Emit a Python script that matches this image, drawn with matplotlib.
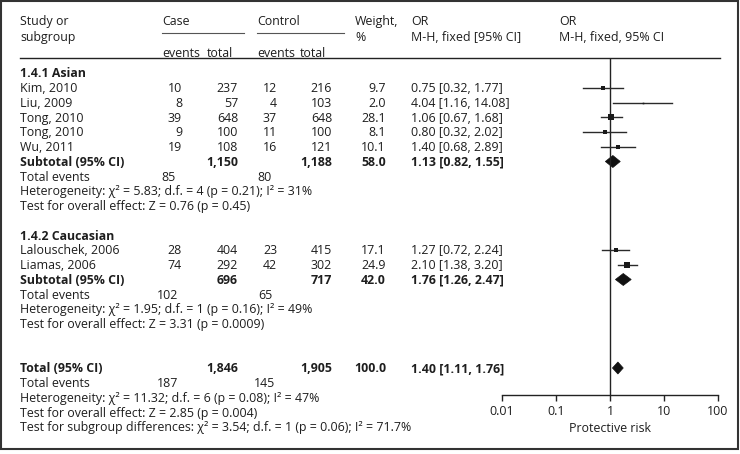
import numpy as np
import matplotlib
matplotlib.use("Agg")
import matplotlib.pyplot as plt
from matplotlib.patches import Rectangle, Polygon
from matplotlib.ticker import FixedLocator, FixedFormatter, NullLocator

# ---- data -------------------------------------------------------------
asian_names = ["Kim, 2010", "Liu, 2009", "Tong, 2010", "Tong, 2010", "Wu, 2011"]
asian_case_events = [10, 8, 39, 9, 19]
asian_case_total = [237, 57, 648, 100, 108]
asian_ctrl_events = [12, 4, 37, 11, 16]
asian_ctrl_total = [216, 103, 648, 100, 121]
asian_weight = [9.7, 2.0, 28.1, 8.1, 10.1]
asian_or = [0.75, 4.04, 1.06, 0.80, 1.40]
asian_lo = [0.32, 1.16, 0.67, 0.32, 0.68]
asian_hi = [1.77, 14.08, 1.68, 2.02, 2.89]

cauc_names = ["Lalouschek, 2006", "Liamas, 2006"]
cauc_case_events = [28, 74]
cauc_case_total = [404, 292]
cauc_ctrl_events = [23, 42]
cauc_ctrl_total = [415, 302]
cauc_weight = [17.1, 24.9]
cauc_or = [1.27, 2.10]
cauc_lo = [0.72, 1.38]
cauc_hi = [2.24, 3.20]

# subtotal / total rows
sub_labels = ["Subtotal (95% CI)", "Subtotal (95% CI)", "Total (95% CI)"]
sub_case_total = ["1,150", "696", "1,846"]
sub_ctrl_total = ["1,188", "717", "1,905"]
sub_weight = [58.0, 42.0, 100.0]
sub_or = [1.13, 1.76, 1.40]
sub_lo = [0.82, 1.26, 1.11]
sub_hi = [1.55, 2.47, 1.76]
sub_case_events = [85, 102, 187]
sub_ctrl_events = [80, 65, 145]
het_text = [
    "Heterogeneity: \u03c7\u00b2 = 5.83; d.f. = 4 (p = 0.21); I\u00b2 = 31%",
    "Heterogeneity: \u03c7\u00b2 = 1.95; d.f. = 1 (p = 0.16); I\u00b2 = 49%",
    "Heterogeneity: \u03c7\u00b2 = 11.32; d.f. = 6 (p = 0.08); I\u00b2 = 47%",
]
effect_text = [
    "Test for overall effect: Z = 0.76 (p = 0.45)",
    "Test for overall effect: Z = 3.31 (p = 0.0009)",
    "Test for overall effect: Z = 2.85 (p = 0.004)",
]
subgroup_diff = "Test for subgroup differences: \u03c7\u00b2 = 3.54; d.f. = 1 (p = 0.06); I\u00b2 = 71.7%"
axis_ticks = [0.01, 0.1, 1, 10, 100]
axis_labels = ["0.01", "0.1", "1", "10", "100"]

# ---- layout -------------------------------------------------------------
W, H = 740, 454
plt.rcParams['font.family'] = ['Open Sans', 'DejaVu Sans']
FS = 8.9
TC = '#1e1e1e'
fig = plt.figure(figsize=(W / 100, H / 100), dpi=100)
ax = fig.add_axes([0, 0, 1, 1])
ax.set_xlim(0, W)
ax.set_ylim(H, 0)
ax.axis('off')

X_NAME, X_CE, X_CT, X_KE, X_KT, X_W, X_OR = 20, 182, 238, 277, 332, 386, 411
X_TE_CASE, X_TE_CTRL = 168, 265
Y0, DY = 73, 14.75
TOP, AXIS_Y = 58, 395


def row_y(i):
    return Y0 + DY * i


def txt(x, y, s, ha='left', bold=False):
    # small downward nudge: 'center' sits a touch high for this font
    ax.text(x, y + 0.8, s, ha=ha, va='center', fontsize=FS, color=TC,
            fontweight='bold' if bold else 'normal')


# header
txt(20, 21, "Study or")
txt(20, 37, "subgroup")
txt(162, 21, "Case")
txt(257, 21, "Control")
ax.plot([162, 244], [33, 33], color='#555555', lw=0.8)
ax.plot([257, 344], [33, 33], color='#555555', lw=0.8)
txt(162, 53, "events")
txt(207, 53, "total")
txt(257, 53, "events")
txt(300, 53, "total")
txt(355, 21, "Weight,")
txt(355, 37, "%")
txt(411, 21, "OR")
txt(411, 37, "M-H, fixed [95% CI]")
txt(559, 21, "OR")
txt(559, 37, "M-H, fixed, 95% CI")
ax.plot([20, 720], [TOP, TOP], color='#222222', lw=1.0)
ax.add_patch(Rectangle((1, 1), 737, 448, fill=False, ec='#333333', lw=1.5))

# forest axes
fx0, fx1 = 502, 718
fax = fig.add_axes([fx0 / W, (H - AXIS_Y) / H, (fx1 - fx0) / W, (AXIS_Y - TOP) / H])
fax.set_xscale('log')
fax.set_xlim(0.01, 100)
fax.set_ylim(AXIS_Y, TOP)
fax.patch.set_alpha(0)
for side in ['top', 'right', 'left']:
    fax.spines[side].set_visible(False)
fax.spines['bottom'].set_color('#222222')
fax.spines['bottom'].set_linewidth(1.0)
fax.yaxis.set_major_locator(NullLocator())
fax.xaxis.set_major_locator(FixedLocator(axis_ticks))
fax.xaxis.set_major_formatter(FixedFormatter(axis_labels))
fax.xaxis.set_minor_locator(NullLocator())
fax.tick_params(axis='x', direction='out', length=4, width=1.0, color='#222222',
                labelsize=FS, labelcolor=TC, pad=3)
fax.axvline(1, color='#222222', lw=1.0)
txt(610, 428, "Protective risk", ha='center')


def study_rows(start, names, ce, ct, ke, kt, w, orv, lo, hi):
    for j, name in enumerate(names):
        y = row_y(start + j)
        txt(X_NAME, y, name)
        txt(X_CE, y, str(ce[j]), ha='right')
        txt(X_CT, y, str(ct[j]), ha='right')
        txt(X_KE, y, str(ke[j]), ha='right')
        txt(X_KT, y, str(kt[j]), ha='right')
        txt(X_W, y, f"{w[j]:.1f}", ha='right')
        txt(X_OR, y, f"{orv[j]:.2f} [{lo[j]:.2f}, {hi[j]:.2f}]")
        fax.plot([lo[j], hi[j]], [y, y], color='#2a2a2a', lw=1.0)
        side_px = 1.15 * np.sqrt(w[j])
        fax.plot([orv[j]], [y], marker='s', color='#1a1a1a',
                 markersize=side_px * 0.72, markeredgewidth=0)


def summary_rows(start, k):
    y = row_y(start)
    txt(X_NAME, y, sub_labels[k], bold=True)
    txt(X_CT, y, sub_case_total[k], ha='right', bold=True)
    txt(X_KT, y, sub_ctrl_total[k], ha='right', bold=True)
    txt(X_W, y, f"{sub_weight[k]:.1f}", ha='right', bold=True)
    txt(X_OR, y, f"{sub_or[k]:.2f} [{sub_lo[k]:.2f}, {sub_hi[k]:.2f}]", bold=True)
    hh = 6
    diamond = Polygon([(sub_lo[k], y), (sub_or[k], y - hh), (sub_hi[k], y), (sub_or[k], y + hh)],
                      closed=True, fc='#111111', ec='#111111', lw=0.5)
    fax.add_patch(diamond)
    txt(X_NAME, row_y(start + 1), "Total events")
    txt(X_TE_CASE, row_y(start + 1), str(sub_case_events[k]), ha='center')
    txt(X_TE_CTRL, row_y(start + 1), str(sub_ctrl_events[k]), ha='center')
    txt(X_NAME, row_y(start + 2), het_text[k])
    txt(X_NAME, row_y(start + 3), effect_text[k])


txt(X_NAME, row_y(0), "1.4.1 Asian", bold=True)
study_rows(1, asian_names, asian_case_events, asian_case_total, asian_ctrl_events,
           asian_ctrl_total, asian_weight, asian_or, asian_lo, asian_hi)
summary_rows(6, 0)

txt(X_NAME, row_y(11), "1.4.2 Caucasian", bold=True)
study_rows(12, cauc_names, cauc_case_events, cauc_case_total, cauc_ctrl_events,
           cauc_ctrl_total, cauc_weight, cauc_or, cauc_lo, cauc_hi)
summary_rows(14, 1)

summary_rows(20, 2)
txt(X_NAME, row_y(24), subgroup_diff)

fig.savefig("out.png", dpi=100, facecolor='white')
